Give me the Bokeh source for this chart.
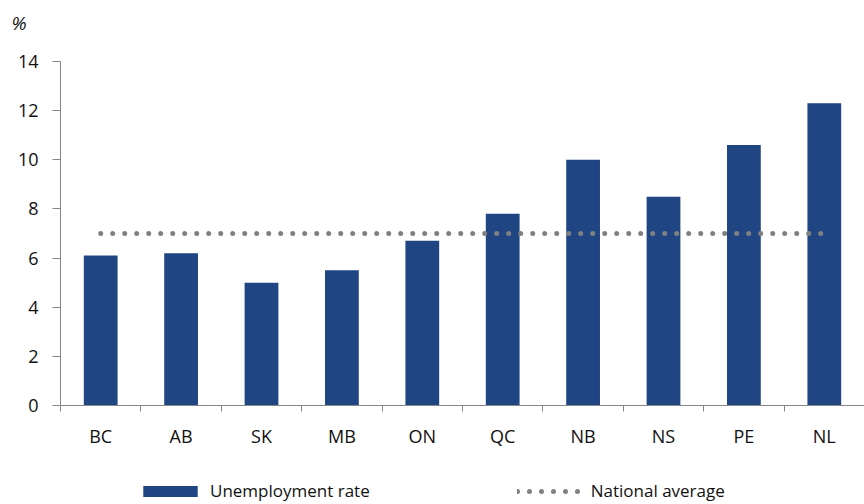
from bokeh.plotting import figure
from bokeh.models import Range1d, FixedTicker, Legend, LegendItem, Label, ColumnDataSource
from bokeh.embed import file_html
from bokeh.resources import INLINE

provinces = ["BC", "AB", "SK", "MB", "ON", "QC", "NB", "NS", "PE", "NL"]
unemployment = [6.1, 6.2, 5.0, 5.5, 6.7, 7.8, 10.0, 8.5, 10.6, 12.3]
national_average = 7.0
y_ticks = [0, 2, 4, 6, 8, 10, 12, 14]
y_unit = "%"

FONT = "Open Sans"
AXIS_COLOR = "#868686"
BAR_COLOR = "#1F4582"
TEXT_COLOR = "#111111"

W, H = 864, 504
# pixel layout of the plotting area (left, right, top, bottom)
PL, PR, PT, PB = 60, 864, 61, 405

n = len(provinces)
x_pos = [i + 0.5 for i in range(n)]
src = ColumnDataSource(dict(x=x_pos, rate=unemployment, prov=provinces))

ymin, ymax = y_ticks[0], y_ticks[-1]
sx = (PR - PL) / n
sy = (PB - PT) / (ymax - ymin)
x_range = Range1d(-PL / sx, n + (W - PR) / sx)
y_range = Range1d(ymin - (H - PB) / sy, ymax + PT / sy)

p = figure(width=W, height=H, output_backend="svg", toolbar_location=None,
           x_range=x_range, y_range=y_range,
           min_border_left=0, min_border_right=0, min_border_top=0,
           min_border_bottom=0)
p.outline_line_color = None
p.grid.visible = False
p.background_fill_color = "white"
p.border_fill_color = "white"

bars = p.vbar(x="x", top="rate", width=0.42, bottom=0, source=src,
              fill_color=BAR_COLOR, line_color=None)

avg_line = p.line(x=[x_pos[0], x_pos[-1]], y=[national_average, national_average],
                  line_color="#808080", line_width=5, line_dash="0 12",
                  line_cap="round")

# x axis: labels at centres, ticks at category boundaries
xa = p.xaxis[0]
xa.fixed_location = 0
xa.bounds = (0, n)
xa.ticker = FixedTicker(ticks=x_pos, minor_ticks=list(range(n + 1)))
xa.major_label_overrides = {x: lab for x, lab in zip(x_pos, provinces)}
xa.major_tick_line_color = None
xa.major_tick_out = 6
xa.major_tick_in = 0
xa.minor_tick_out = 6
xa.minor_tick_in = 0
xa.minor_tick_line_color = AXIS_COLOR
xa.axis_line_color = AXIS_COLOR
xa.major_label_text_font = FONT
xa.major_label_text_font_size = "18px"
xa.major_label_text_color = TEXT_COLOR
xa.major_label_standoff = 12

ya = p.yaxis[0]
ya.fixed_location = 0
ya.bounds = (ymin, ymax)
ya.ticker = FixedTicker(ticks=y_ticks)
ya.major_tick_out = 8
ya.major_tick_in = 0
ya.minor_tick_line_color = None
ya.major_tick_line_color = AXIS_COLOR
ya.axis_line_color = AXIS_COLOR
ya.major_label_text_font = FONT
ya.major_label_text_font_size = "18px"
ya.major_label_text_color = TEXT_COLOR
ya.major_label_standoff = 14

unit_label = Label(x=(11 - PL) / sx, y=ymax + (PT - 9) / sy, text=y_unit,
                   text_font=FONT, text_font_size="19px", text_color=TEXT_COLOR,
                   text_font_style="italic",
                   text_baseline="top", text_align="left")
p.add_layout(unit_label)

legend = Legend(items=[LegendItem(label="Unemployment rate", renderers=[bars]),
                       LegendItem(label="National average", renderers=[avg_line])],
                orientation="horizontal", location=(136, 2),
                glyph_width=68, glyph_height=14, spacing=147,
                label_standoff=6, label_text_font=FONT,
                label_text_font_size="17px", label_text_color=TEXT_COLOR,
                border_line_color=None, background_fill_alpha=0,
                padding=0, margin=0)
p.add_layout(legend, "center")

open("out.html", "w").write(file_html(p, INLINE))
